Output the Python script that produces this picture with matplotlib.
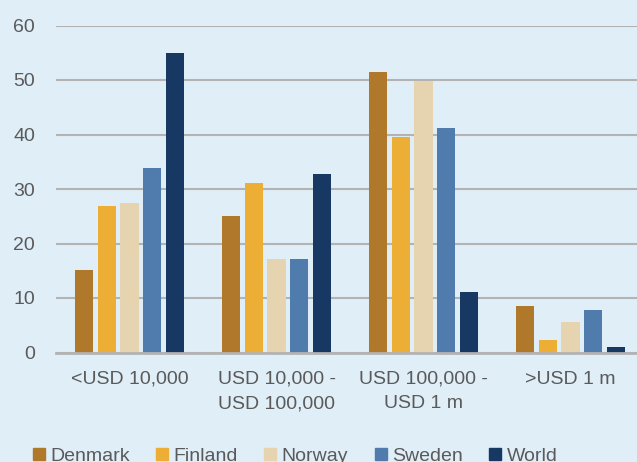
import numpy as np
import matplotlib.pyplot as plt
from matplotlib.patches import Patch

# Data (share in %)
categories = ['<USD 10,000', 'USD 10,000 -\nUSD 100,000', 'USD 100,000 -\nUSD 1 m', '>USD 1 m']
series = ['Denmark', 'Finland', 'Norway', 'Sweden', 'World']
denmark = [15.1, 25.0, 51.5, 8.5]
finland = [26.9, 31.1, 39.5, 2.3]
norway = [27.4, 17.2, 49.8, 5.6]
sweden = [33.9, 17.2, 41.2, 7.8]
world = [55.0, 32.8, 11.1, 1.1]
values = [denmark, finland, norway, sweden, world]
colors = ['#B0782A', '#ECAE35', '#E5D4AF', '#4F7CAC', '#163863']

bg = '#DFEEF7'
txt = '#5A5A5A'
plt.rcParams['font.family'] = ['Liberation Sans', 'DejaVu Sans']

fig = plt.figure(figsize=(6.37, 4.62), dpi=100, facecolor=bg)
ax = fig.add_axes([56/637, 109.5/462, 588/637, 327/462])
ax.set_facecolor(bg)

x = np.arange(len(categories))
step = 0.1544
width = 0.1225
for i, (vals, col) in enumerate(zip(values, colors)):
    ax.bar(x + (i - 2) * step, vals, width, color=col, zorder=3)

ax.set_xlim(-0.5, 3.5)
ax.set_ylim(0, 60)
ax.set_yticks(range(0, 61, 10))
ax.set_xticks(x)
ax.set_xticklabels(categories, linespacing=1.6, fontsize=14.8)
ax.yaxis.grid(True, color='#B3B3B3', linewidth=1.5, zorder=0)
for s in ['top', 'right', 'left']:
    ax.spines[s].set_visible(False)
ax.spines['bottom'].set_color('#B3B3B3')
ax.spines['bottom'].set_linewidth(2)
ax.spines['bottom'].set_zorder(4)
ax.tick_params(axis='both', length=0, labelsize=14, labelcolor=txt)
ax.tick_params(axis='y', pad=15)
ax.tick_params(axis='x', pad=13)

handles = [Patch(color=c, label=s) for s, c in zip(series, colors)]
fig.legend(handles=handles, loc='upper left', bbox_to_anchor=(25/637, 1 - 440/462),
           ncol=5, frameon=False, fontsize=14, labelcolor=txt,
           handlelength=0.62, handleheight=0.62, handletextpad=0.28,
           columnspacing=1.35, borderaxespad=0)

fig.savefig('out.png', dpi=100, facecolor=bg)
